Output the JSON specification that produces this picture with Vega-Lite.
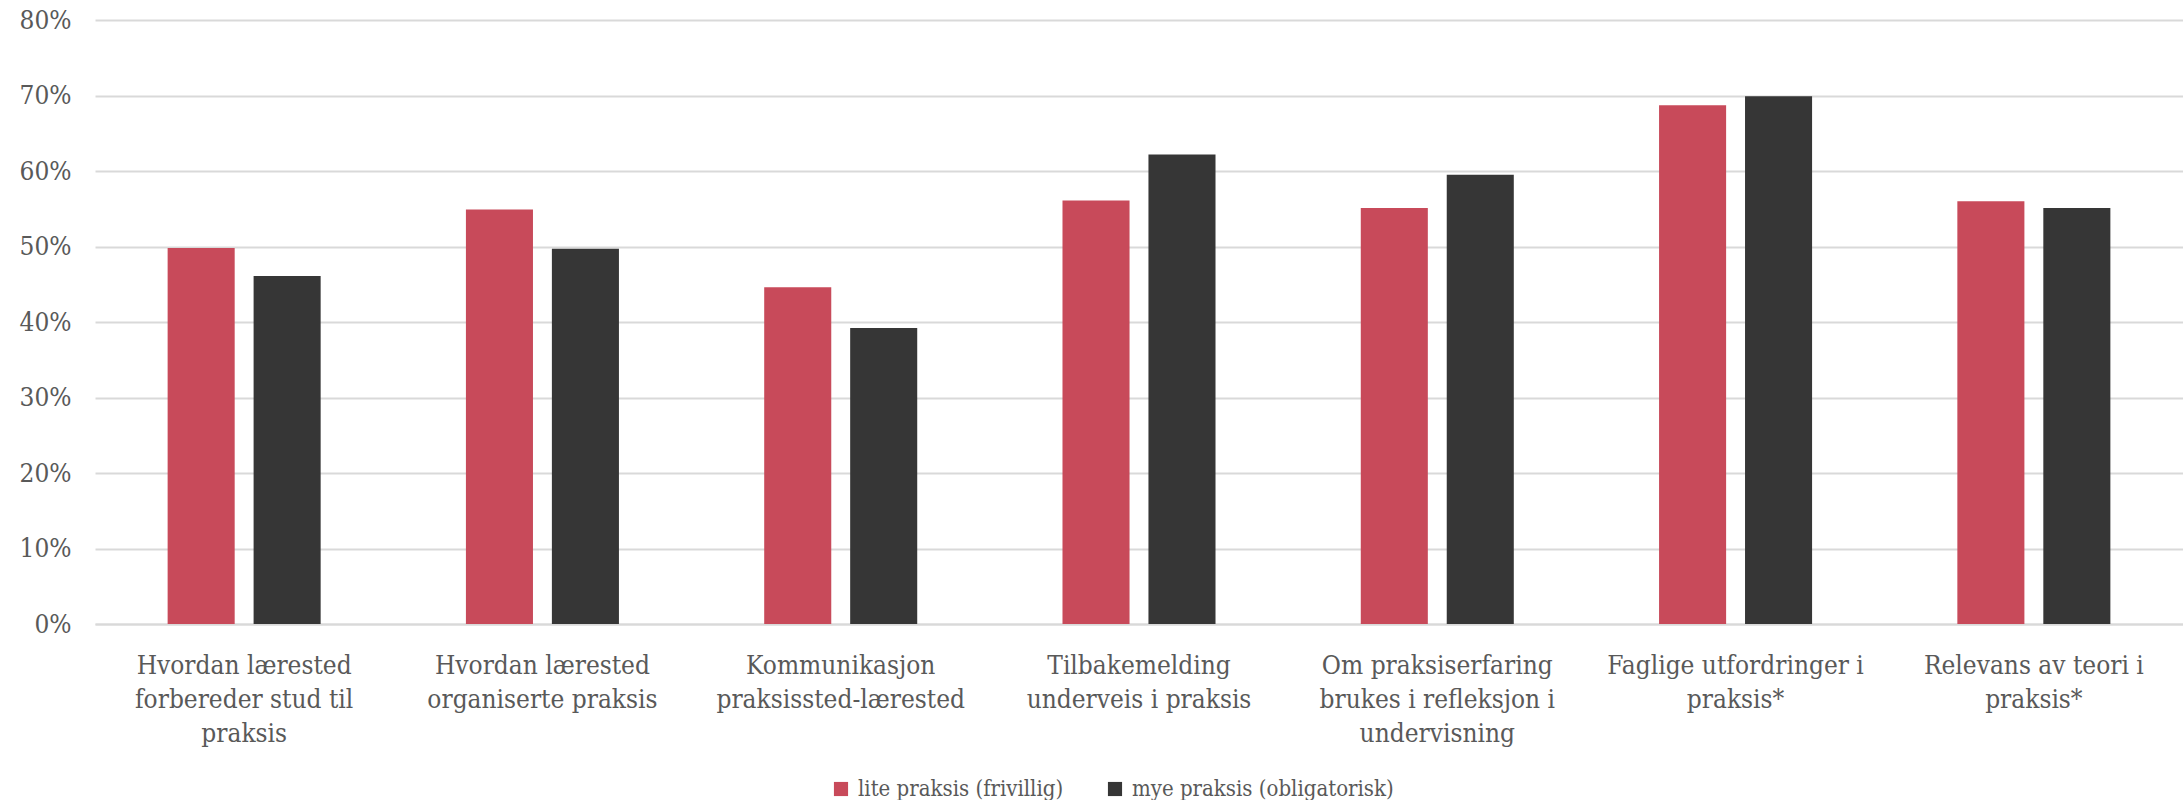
{
  "$schema": "https://vega.github.io/schema/vega-lite/v6.json",
  "width": 2088,
  "height": 604,
  "autosize": {"type": "none"},
  "padding": {"left": 95, "top": 20, "right": 0, "bottom": 176},
  "background": "white",
  "data": {
    "values": [
      {"kategori": "Hvordan lærested\nforbereder stud til\npraksis", "gruppe": "lite praksis (frivillig)", "andel": 0.498},
      {"kategori": "Hvordan lærested\nforbereder stud til\npraksis", "gruppe": "mye praksis (obligatorisk)", "andel": 0.461},
      {"kategori": "Hvordan lærested\norganiserte praksis", "gruppe": "lite praksis (frivillig)", "andel": 0.549},
      {"kategori": "Hvordan lærested\norganiserte praksis", "gruppe": "mye praksis (obligatorisk)", "andel": 0.497},
      {"kategori": "Kommunikasjon\npraksissted-lærested", "gruppe": "lite praksis (frivillig)", "andel": 0.446},
      {"kategori": "Kommunikasjon\npraksissted-lærested", "gruppe": "mye praksis (obligatorisk)", "andel": 0.392},
      {"kategori": "Tilbakemelding\nunderveis i praksis", "gruppe": "lite praksis (frivillig)", "andel": 0.561},
      {"kategori": "Tilbakemelding\nunderveis i praksis", "gruppe": "mye praksis (obligatorisk)", "andel": 0.622},
      {"kategori": "Om praksiserfaring\nbrukes i refleksjon i\nundervisning", "gruppe": "lite praksis (frivillig)", "andel": 0.551},
      {"kategori": "Om praksiserfaring\nbrukes i refleksjon i\nundervisning", "gruppe": "mye praksis (obligatorisk)", "andel": 0.595},
      {"kategori": "Faglige utfordringer i\npraksis*", "gruppe": "lite praksis (frivillig)", "andel": 0.687},
      {"kategori": "Faglige utfordringer i\npraksis*", "gruppe": "mye praksis (obligatorisk)", "andel": 0.699},
      {"kategori": "Relevans av teori i\npraksis*", "gruppe": "lite praksis (frivillig)", "andel": 0.560},
      {"kategori": "Relevans av teori i\npraksis*", "gruppe": "mye praksis (obligatorisk)", "andel": 0.551}
    ]
  },
  "mark": {"type": "bar"},
  "encoding": {
    "x": {
      "field": "kategori",
      "type": "nominal",
      "sort": null,
      "scale": {"paddingInner": 0.487, "paddingOuter": 0.2435},
      "axis": {
        "title": null,
        "labelAngle": 0,
        "labelExpr": "split(datum.value, '\\n')",
        "labelFont": "DejaVu Serif Condensed",
        "labelFontSize": 26,
        "labelColor": "#595959",
        "labelLineHeight": 34,
        "labelPadding": 28,
        "labelLimit": 0,
        "labelBaseline": "top",
        "labelOverlap": false,
        "ticks": false,
        "domainColor": "#d9d9d9",
        "domainWidth": 2
      }
    },
    "xOffset": {
      "field": "gruppe",
      "type": "nominal",
      "scale": {"paddingInner": 0.22, "paddingOuter": 0}
    },
    "y": {
      "field": "andel",
      "type": "quantitative",
      "scale": {"domain": [0, 0.8]},
      "axis": {
        "title": null,
        "format": ".0%",
        "values": [0, 0.1, 0.2, 0.3, 0.4, 0.5, 0.6, 0.7, 0.8],
        "labelOverlap": false,
        "labelFont": "DejaVu Serif Condensed",
        "labelFontSize": 26,
        "labelColor": "#595959",
        "labelPadding": 24,
        "ticks": false,
        "domain": false,
        "gridColor": "#d9d9d9",
        "gridWidth": 2
      }
    },
    "color": {
      "field": "gruppe",
      "type": "nominal",
      "scale": {
        "domain": ["lite praksis (frivillig)", "mye praksis (obligatorisk)"],
        "range": ["#c84a5a", "#363636"]
      },
      "legend": {
        "title": null,
        "orient": "none",
        "direction": "horizontal",
        "legendX": 735,
        "legendY": 758,
        "symbolType": "square",
        "symbolSize": 200,
        "symbolStrokeWidth": 0,
        "labelFont": "DejaVu Serif Condensed",
        "labelFontSize": 22,
        "labelColor": "#595959",
        "labelLimit": 0,
        "columnPadding": 40,
        "labelOffset": 6
      }
    }
  },
  "config": {"view": {"stroke": null}}
}
